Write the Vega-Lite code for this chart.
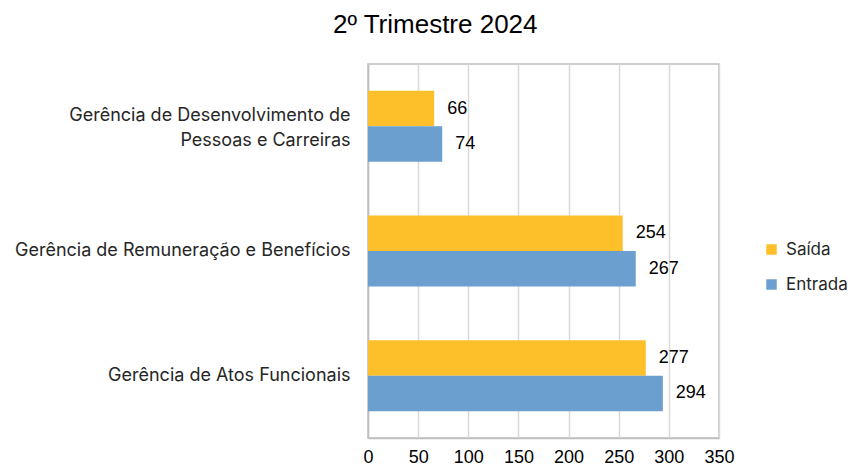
{
  "$schema": "https://vega.github.io/schema/vega-lite/v6.json",
  "autosize": "none",
  "width": 351,
  "height": 374,
  "padding": {"left": 368, "top": 64, "right": 134, "bottom": 33},
  "background": "white",
  "title": {"text": "2º Trimestre 2024", "fontSize": 26, "font": "Liberation Sans", "fontWeight": "normal", "color": "#000000", "anchor": "middle", "frame": "bounds", "offset": 26, "dx": 4},
  "config": {
    "font": "Inter",
    "view": {"stroke": "#BFBFBF", "strokeWidth": 1.5}
  },
  "data": {
    "values": [
      {"cat": "Gerência de Desenvolvimento de Pessoas e Carreiras", "serie": "Saída", "v": 66},
      {"cat": "Gerência de Desenvolvimento de Pessoas e Carreiras", "serie": "Entrada", "v": 74},
      {"cat": "Gerência de Remuneração e Benefícios", "serie": "Saída", "v": 254},
      {"cat": "Gerência de Remuneração e Benefícios", "serie": "Entrada", "v": 267},
      {"cat": "Gerência de Atos Funcionais", "serie": "Saída", "v": 277},
      {"cat": "Gerência de Atos Funcionais", "serie": "Entrada", "v": 294}
    ]
  },
  "encoding": {
    "y": {
      "field": "cat", "type": "nominal", "sort": null,
      "scale": {"paddingInner": 0.43, "paddingOuter": 0.215},
      "axis": {
        "title": null, "ticks": false, "domainColor": "#BFBFBF", "domainWidth": 1.5,
        "labelFont": "Inter", "labelFontSize": 18, "labelColor": "#262626", "labelPadding": 18, "labelLimit": 400,
        "labelLineHeight": 25,
        "labelOffset": {"condition": {"test": "datum.value == 'Gerência de Desenvolvimento de Pessoas e Carreiras'", "value": -10.5}, "value": 0},
        "labelExpr": "datum.label == 'Gerência de Desenvolvimento de Pessoas e Carreiras' ? ['Gerência de Desenvolvimento de', 'Pessoas e Carreiras'] : datum.label"
      }
    },
    "yOffset": {"field": "serie", "type": "nominal", "sort": ["Saída", "Entrada"], "scale": {"paddingInner": 0, "paddingOuter": 0}},
    "x": {
      "field": "v", "type": "quantitative",
      "scale": {"domain": [0, 350], "nice": false},
      "axis": {
        "title": null, "values": [0, 50, 100, 150, 200, 250, 300, 350], "ticks": false, "labelFlush": false,
        "gridColor": "#D9D9D9", "gridWidth": 1.5, "domainColor": "#BFBFBF", "domainWidth": 1.5,
        "labelFont": "Liberation Sans", "labelFontSize": 18, "labelColor": "#000000", "labelPadding": 10
      }
    }
  },
  "layer": [
    {
      "mark": {"type": "bar"},
      "encoding": {
        "color": {
          "field": "serie", "type": "nominal",
          "scale": {"domain": ["Saída", "Entrada"], "range": ["#FDC02A", "#6B9FCF"]},
          "legend": {
            "title": null, "orient": "none", "legendX": 395, "legendY": 177,
            "symbolType": "square", "symbolSize": 110, "symbolStrokeWidth": 0,
            "labelFont": "Inter", "labelFontSize": 17, "labelColor": "#262626", "rowPadding": 17, "labelOffset": 6
          }
        }
      }
    },
    {
      "mark": {"type": "text", "align": "left", "dx": 13, "font": "Liberation Sans", "fontSize": 18, "color": "#000000"},
      "encoding": {"text": {"field": "v", "type": "quantitative"}}
    }
  ]
}
